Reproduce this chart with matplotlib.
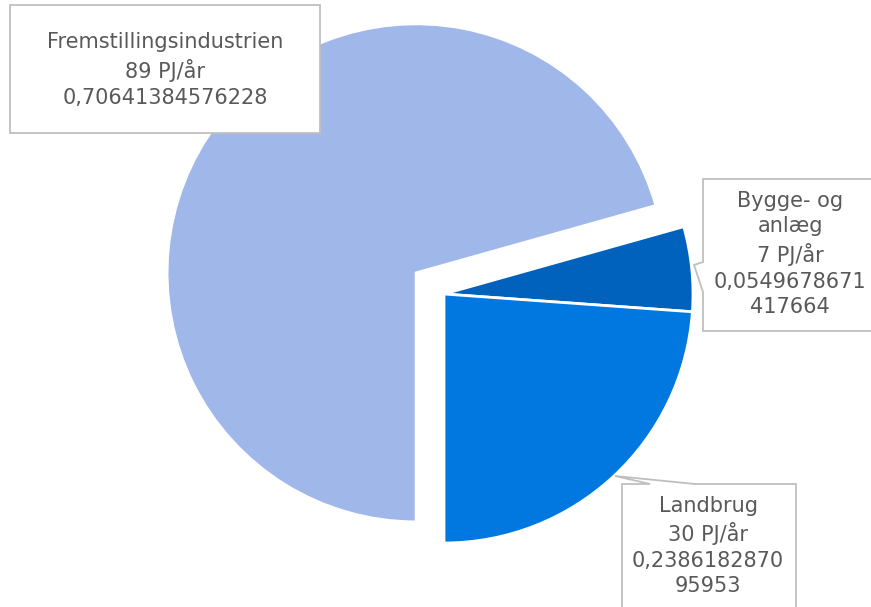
import matplotlib
matplotlib.use("Agg")
import matplotlib.pyplot as plt
from matplotlib.patches import Polygon

# Data
categories = ["Fremstillingsindustrien", "Bygge- og anlæg", "Landbrug"]
pj_values = [89, 7, 30]
shares = [0.70641384576228, 0.0549678671417664, 0.238618287095953]
label_texts = [
    "Fremstillingsindustrien\n89 PJ/år\n0,70641384576228",
    "Bygge- og\nanlæg\n7 PJ/år\n0,0549678671\n417664",
    "Landbrug\n30 PJ/år\n0,2386182870\n95953",
]
colors = ["#A0B7EA", "#0062BC", "#0078DF"]

W, H = 871, 607
fig = plt.figure(figsize=(W / 100, H / 100), dpi=100)
ax = fig.add_axes([0, 0, 1, 1])

def P(x, y):
    return (x, H - y)

R = 249
center = P(444, 294)
ax.pie(shares, colors=colors, startangle=270, counterclock=False,
       radius=R, center=center, explode=[35, 0, 0],
       wedgeprops=dict(edgecolor="white", linewidth=2.0), frame=False)
ax.set_xlim(0, W)
ax.set_ylim(0, H)
ax.set_aspect("equal")
ax.axis("off")

box_kw = dict(closed=True, facecolor="white", edgecolor="#BFBFBF", linewidth=1.3, zorder=5)
# Fremstilling box
ax.add_patch(Polygon([P(10, 5), P(320, 5), P(320, 133), P(10, 133)], **box_kw))
# Bygge box with pointer on left
ax.add_patch(Polygon([P(703, 179), P(880, 179), P(880, 331), P(703, 331),
                      P(703, 292), P(694, 265), P(703, 262)], **box_kw))
# Landbrug box with pointer on top
ax.add_patch(Polygon([P(622, 484), P(650, 484), P(615, 476), P(695, 484),
                      P(796, 484), P(796, 620), P(622, 620)], **box_kw))

txt_kw = dict(ha="center", va="center", color="#595959", fontsize=15,
              linespacing=1.35, zorder=6, family="DejaVu Sans")
ax.text(*P(165, 70), label_texts[0], **txt_kw)
ax.text(*P(790, 254), label_texts[1], **txt_kw)
ax.text(*P(708, 546), label_texts[2], **txt_kw)

fig.savefig("out.png", dpi=100)
